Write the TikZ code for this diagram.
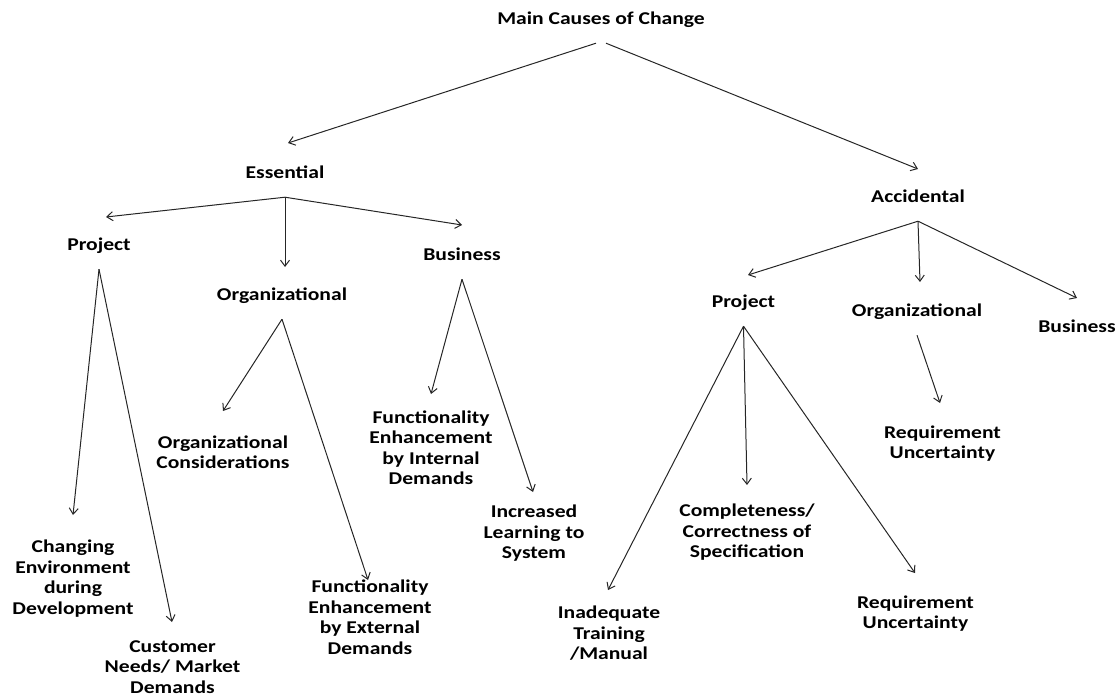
\documentclass[tikz,border=0pt]{standalone}
\usepackage{fontspec}
\setmainfont{Carlito}
\usetikzlibrary{arrows.meta}
\tikzset{
  lbl/.style={font=\fontsize{18}{20.5}\selectfont\bfseries, align=center, xscale=1.2, inner sep=1pt},
  hd/.style={lbl, text height=13pt, text depth=4pt, inner ysep=15pt},
  arr/.style={draw=black!85, line width=1pt, -{Straight Barb[length=6pt,width=9pt]}}
}
\begin{document}
\begin{tikzpicture}[x=1pt, y=-1pt]
\useasboundingbox (0,0) rectangle (1118,696);
\node[hd] (M)  at (601,19.5)   {Main Causes of Change};
\node[hd] (E)  at (285,173.5)  {Essential};
\node[hd] (A)  at (918,197.5)  {Accidental};
\node[hd] (EP) at (99,245.5)   {Project};
\node[hd] (EO) at (282,295.5)  {Organizational};
\node[hd] (EB) at (462,255.5)  {Business};
\node[hd] (AP) at (743.5,302.5) {Project};
\node[hd] (AO) at (917,311.5)  {Organizational};
\node[lbl] (AB) at (1077,326)  {Business};

\node[lbl] (OC) at (223,452)     {Organizational\\Considerations};
\node[lbl] (FI) at (431,447.5)   {Functionality\\Enhancement\\by Internal\\Demands};
\node[lbl] (IL) at (534,533.5)   {Increased\\Learning to\\System};
\node[lbl] (CE) at (73,578.5)    {Changing\\Environment\\during\\Development};
\node[lbl] (CN) at (172.5,667)   {Customer\\Needs/ Market\\Demands};
\node[lbl] (FX) at (370,617)     {Functionality\\Enhancement\\by External\\Demands};
\node[lbl] (CC) at (747,532.5)   {Completeness/\\Correctness of\\Specification};
\node[lbl] (IT) at (609,633.5)   {Inadequate\\Training\\/Manual};
\node[lbl] (RU) at (915.5,613.5) {Requirement\\Uncertainty};
\node[lbl] (RO) at (942.5,443.5) {Requirement\\Uncertainty};

\coordinate (tE)  at (288,143);
\coordinate (tA)  at (918,169);
\coordinate (tEP) at (106,217);
\coordinate (tEO) at (285,267);
\coordinate (tEB) at (462,225);
\coordinate (tCE) at (73,515);
\coordinate (tCN) at (172,622);
\coordinate (tOC) at (223,411);
\coordinate (tFX) at (368,580);
\coordinate (tFI) at (431,394);
\coordinate (tIL) at (533,492);
\coordinate (tAP) at (748,275);
\coordinate (tAO) at (920,282);
\coordinate (tAB) at (1077,298);
\coordinate (tIT) at (608,590);
\coordinate (tCC) at (747,485);
\coordinate (tRU) at (915,573);
\coordinate (tRO) at (940,403);

\draw[arr] ([xshift=-5pt]M.south) -- (tE);
\draw[arr] ([xshift=5pt]M.south) -- (tA);
\draw[arr] (E.south) -- (tEP);
\draw[arr] (E.south) -- (tEO);
\draw[arr] (E.south) -- (tEB);
\draw[arr] (EP.south) -- (tCE);
\draw[arr] (EP.south) -- (tCN);
\draw[arr] (EO.south) -- (tOC);
\draw[arr] (EO.south) -- (tFX);
\draw[arr] (EB.south) -- (tFI);
\draw[arr] (EB.south) -- (tIL);
\draw[arr] (A.south) -- (tAP);
\draw[arr] (A.south) -- (tAO);
\draw[arr] (A.south) -- (tAB);
\draw[arr] (AP.south) -- (tIT);
\draw[arr] (AP.south) -- (tCC);
\draw[arr] (AP.south) -- (tRU);
\draw[arr] (AO.south) -- (tRO);
\end{tikzpicture}
\end{document}
